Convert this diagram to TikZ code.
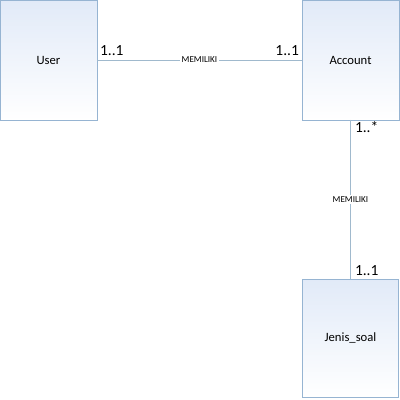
\documentclass[tikz,border=0pt]{standalone}
\usepackage{fontspec}
\setmainfont{Carlito}
\usetikzlibrary{positioning}
\definecolor{boxline}{RGB}{150,180,210}
\definecolor{boxfill}{RGB}{225,234,248}
\definecolor{linkline}{RGB}{160,185,205}
\tikzset{
  ent/.style={rectangle, minimum width=2.425cm, minimum height=3cm, outer sep=0pt, text centered, draw=boxline, top color=boxfill, bottom color=white, text=black, font=\fontsize{9}{10}\selectfont},
  rel/.style={fill=white, inner sep=1pt, text=black, font=\fontsize{6.5}{7}\selectfont},
  mult/.style={inner sep=1pt, text=black, font=\fontsize{11}{12}\selectfont},
  node distance=5.125cm
}
\begin{document}
\begin{tikzpicture}[thin]
	\useasboundingbox (0,0) rectangle (10,-10);
	\node[ent, anchor=north west] (user) at (0,0) {User};
	\node[ent, right=of user] (account) {Account};
	\node[ent, below=3.975cm of account, minimum width=2.4cm, minimum height=2.95cm] (jenis) {Jenis\_soal};
	%
	\draw[linkline] (user) -- node[rel] {MEMILIKI} (account)
		node[mult, pos=0, above right, xshift=1pt, yshift=2pt] {1..1}
		node[mult, pos=1, above left, xshift=-1pt, yshift=2pt] {1..1};
	\draw[linkline] (account) -- node[rel] {MEMILIKI} (jenis)
		node[mult, pos=0, below right, xshift=2pt] {1..*}
		node[mult, pos=1, above right, xshift=2pt, yshift=1pt] {1..1};
\end{tikzpicture}
\end{document}
